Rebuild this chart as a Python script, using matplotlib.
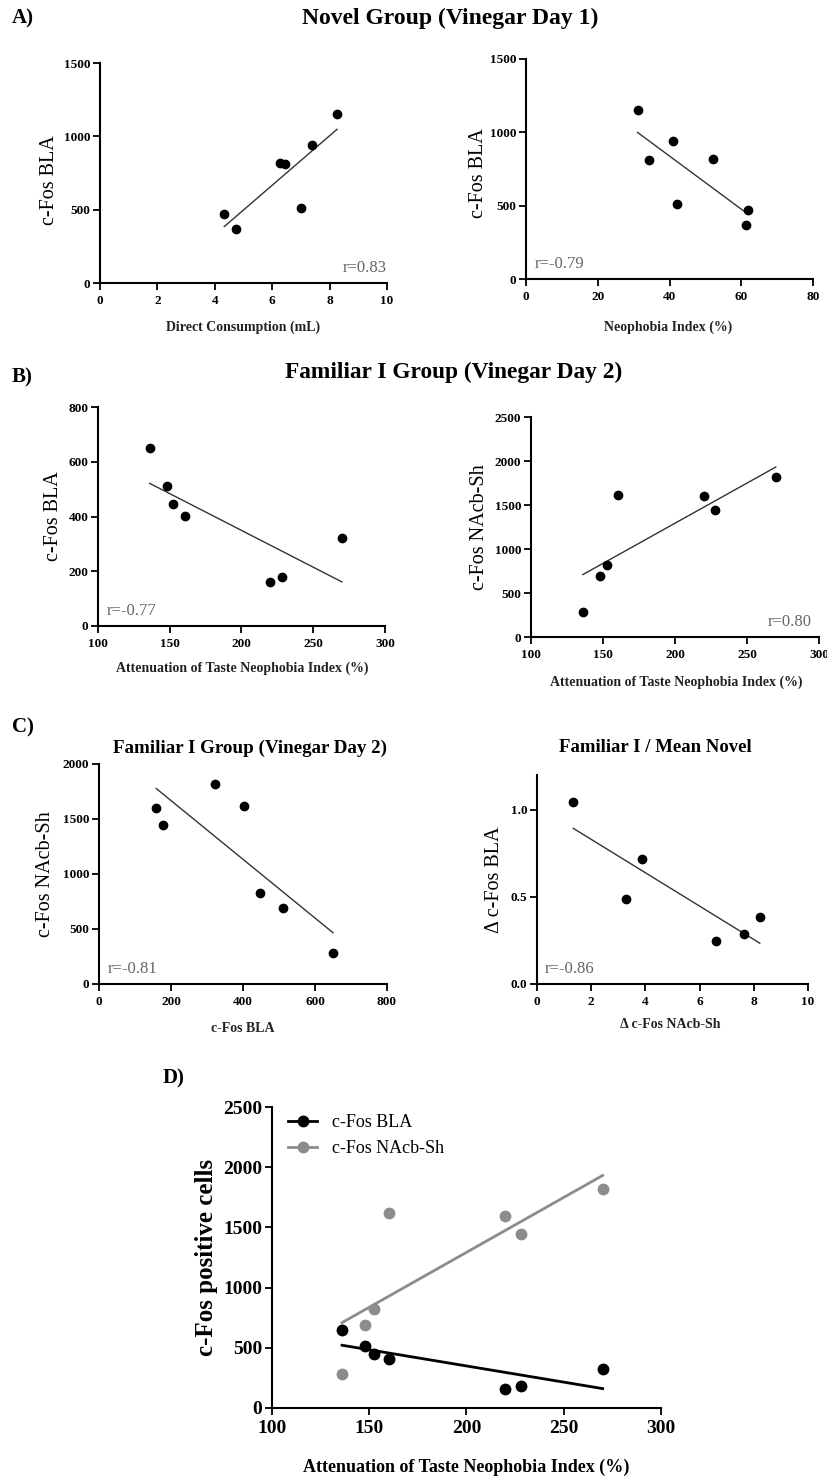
import numpy as np
import matplotlib
matplotlib.use('Agg')
import matplotlib.pyplot as plt

plt.rcParams['font.family'] = ['Liberation Serif', 'DejaVu Serif']

W, H = 828, 1476

# Novel group (vinegar day 1)
consumption = [4.33, 4.74, 6.26, 6.43, 7.40, 7.00, 8.26]
neophobia = [62.0, 61.3, 52.0, 34.4, 40.9, 42.2, 31.1]
bla_novel = [468, 368, 820, 811, 941, 511, 1155]

# Familiar I group (vinegar day 2)
attenuation = [136, 148, 152.6, 160.3, 220, 228, 270]
bla_fam = [650, 512, 447, 403, 159, 179, 323]
nacb_fam = [285, 691, 823, 1616, 1597, 1442, 1820]

# Familiar I / mean novel
delta_nacb = [1.34, 3.27, 3.89, 6.62, 7.65, 8.22]
delta_bla = [1.046, 0.486, 0.715, 0.245, 0.287, 0.384]

fig = plt.figure(figsize=(W / 100, H / 100), dpi=100)


def box(x0, y0, x1, y1):
    return fig.add_axes([x0 / W, 1 - y1 / H, (x1 - x0) / W, (y1 - y0) / H])


def ftext(x, y, s, **kw):
    fig.text(x / W, 1 - y / H, s, **kw)


def style(ax, xlim, xticks, ylim, yticks, size=9.5):
    ax.set_xlim(xlim)
    ax.set_ylim(ylim)
    ax.set_xticks(xticks)
    ax.set_yticks(yticks)
    for s in ['top', 'right']:
        ax.spines[s].set_visible(False)
    for s in ['left', 'bottom']:
        ax.spines[s].set_linewidth(1.5)
    ax.tick_params(labelsize=size, width=1.3, length=5, direction='out')
    ax.tick_params(axis='y', pad=2)
    for lbl in ax.get_xticklabels() + ax.get_yticklabels():
        lbl.set_fontweight('bold')
    ax.patch.set_alpha(0)


def fit_line(ax, x, y, color, lw):
    k, b = np.polyfit(x, y, 1)
    xs = np.array([min(x), max(x)])
    ax.plot(xs, k * xs + b, color=color, lw=lw, zorder=2)


def small_panel(rect, x, y, xlim, xticks, ylim, yticks, rtext, rx, rha):
    ax = box(*rect)
    ax.plot(x, y, 'o', color='black', ms=6, zorder=3)
    fit_line(ax, x, y, '#333333', 1.0)
    style(ax, xlim, xticks, ylim, yticks)
    ax.text(rx, 0.07, rtext, transform=ax.transAxes, ha=rha, va='center',
            fontsize=12, color='#666666')
    return ax


# ---- A ----
small_panel((100, 63, 387, 283), consumption, bla_novel, (0, 10), range(0, 11, 2),
            (0, 1500), [0, 500, 1000, 1500], 'r=0.83', 1.0, 'right')
small_panel((526, 59, 813, 279), neophobia, bla_novel, (0, 80), range(0, 81, 20),
            (0, 1500), [0, 500, 1000, 1500], 'r=-0.79', 0.03, 'left')

# ---- B ----
small_panel((98, 407, 385, 626), attenuation, bla_fam, (100, 300), range(100, 301, 50),
            (0, 800), range(0, 801, 200), 'r=-0.77', 0.03, 'left')
small_panel((531, 417, 819, 637), attenuation, nacb_fam, (100, 300), range(100, 301, 50),
            (0, 2500), range(0, 2501, 500), 'r=0.80', 0.975, 'right')

# ---- C ----
small_panel((99, 764, 387, 984), bla_fam, nacb_fam, (0, 800), range(0, 801, 200),
            (0, 2000), range(0, 2001, 500), 'r=-0.81', 0.03, 'left')
small_panel((537, 775, 808, 984), delta_nacb, delta_bla, (0, 10), range(0, 11, 2),
            (0, 1.2), [0.0, 0.5, 1.0], 'r=-0.86', 0.03, 'left')
fig.axes[-1].set_yticklabels(['0.0', '0.5', '1.0'], fontweight='bold')

# ---- D ----
axd = box(272, 1107, 661, 1408)
axd.plot(attenuation, bla_fam, 'o', color='black', ms=7.5, zorder=3, label='c-Fos BLA')
axd.plot(attenuation, nacb_fam, 'o', color='#8c8c8c', ms=7.5, zorder=3, label='c-Fos NAcb-Sh')
fit_line(axd, attenuation, bla_fam, 'black', 2.0)
fit_line(axd, attenuation, nacb_fam, '#8c8c8c', 2.0)
style(axd, (100, 300), range(100, 301, 50), (0, 2500), range(0, 2501, 500), size=14)
h1, = axd.plot([], [], '-o', color='black', ms=7.5, lw=2)
h2, = axd.plot([], [], '-o', color='#8c8c8c', ms=7.5, lw=2)
axd.legend([h1, h2], ['c-Fos BLA', 'c-Fos NAcb-Sh'], loc='upper left',
           bbox_to_anchor=(0.0, 1.03), frameon=False, fontsize=13,
           handlelength=1.6, labelspacing=0.5)

# ---- texts ----
bold = dict(fontweight='bold', ha='center', va='center')
ftext(12, 18, 'A)', fontsize=15, fontweight='bold', va='center')
ftext(450, 18, 'Novel Group (Vinegar Day 1)', fontsize=17, **bold)
ftext(12, 377, 'B)', fontsize=15, fontweight='bold', va='center')
ftext(454, 372, 'Familiar I Group (Vinegar Day 2)', fontsize=16.8, **bold)
ftext(12, 727, 'C)', fontsize=15, fontweight='bold', va='center')
ftext(250, 748, 'Familiar I Group (Vinegar Day 2)', fontsize=13.7, **bold)
ftext(655, 748, 'Familiar I / Mean Novel', fontsize=13.5, **bold)
ftext(163, 1078, 'D)', fontsize=15, fontweight='bold', va='center')

lab = dict(fontweight='bold', ha='center', va='center', color='#222222')
ftext(243, 327, 'Direct Consumption (mL)', fontsize=10, **lab)
ftext(668, 327, 'Neophobia Index (%)', fontsize=10, **lab)
ftext(242, 668, 'Attenuation of Taste Neophobia Index (%)', fontsize=10, **lab)
ftext(676, 682, 'Attenuation of Taste Neophobia Index (%)', fontsize=10, **lab)
ftext(243, 1028, 'c-Fos BLA', fontsize=10, **lab)
ftext(670, 1025, '\u0394 c-Fos NAcb-Sh', fontsize=10, **lab)

ylab = dict(ha='center', va='center', rotation=90, fontsize=14.5)
ftext(50, 180, 'c-Fos BLA', **ylab)
ftext(479, 173, 'c-Fos BLA', **ylab)
ftext(54, 516, 'c-Fos BLA', **ylab)
ftext(480, 527, 'c-Fos NAcb-Sh', **ylab)
ftext(46, 874, 'c-Fos NAcb-Sh', **ylab)
ftext(495, 880, '\u0394 c-Fos BLA', **ylab)

ftext(466, 1467, 'Attenuation of Taste Neophobia Index (%)', fontsize=13, **bold)
ftext(207, 1257, 'c-Fos positive cells', fontsize=18, fontweight='bold',
      ha='center', va='center', rotation=90)

fig.savefig('out.png', dpi=100)
